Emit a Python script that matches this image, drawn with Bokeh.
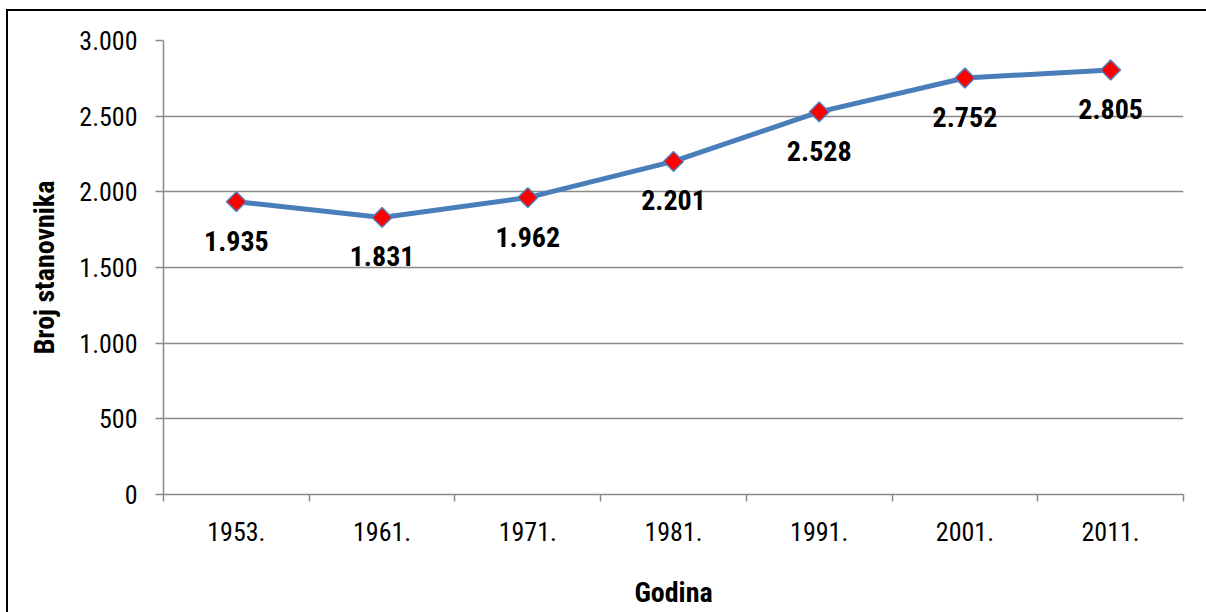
import math
from bokeh.plotting import figure
from bokeh.layouts import column
from bokeh.models import ColumnDataSource, FixedTicker, Range1d
from bokeh.core.properties import value
from bokeh.embed import file_html
from bokeh.resources import INLINE

years = ["1953.", "1961.", "1971.", "1981.", "1991.", "2001.", "2011."]
population = [1935, 1831, 1962, 2201, 2528, 2752, 2805]
y_ticks = [0, 500, 1000, 1500, 2000, 2500, 3000]


def fmt(v):
    return f"{v:,}".replace(",", ".")


FONT = "Liberation Sans Narrow, Noto Sans Condensed, Roboto Condensed, Liberation Sans"
GRAY = "#8a8a8a"
BLUE = "#4a7ebb"

xs = [i + 0.5 for i in range(len(years))]
src = ColumnDataSource(dict(x=xs, y=population, label=[fmt(v) for v in population]))

p = figure(width=1198, height=601, output_backend="svg", toolbar_location=None,
           x_range=Range1d(0, len(years)), y_range=Range1d(0, 3000),
           min_border_left=155, min_border_right=23, min_border_top=29,
           min_border_bottom=118)
p.outline_line_color = None
p.background_fill_color = "white"
p.border_fill_color = "white"

p.line("x", "y", source=src, line_color=BLUE, line_width=5)
p.scatter("x", "y", source=src, marker="square", size=14, angle=math.pi / 4,
          fill_color="#ff0000", line_color="#4f81bd", line_width=1.5)
p.text("x", "y", text="label", source=src, text_align="center",
       text_baseline="middle", y_offset=39, text_font=value(FONT),
       text_font_size="28px", text_font_style="bold", text_color="black")

# x axis
xa = p.xaxis[0]
xa.ticker = FixedTicker(ticks=xs, minor_ticks=list(range(len(years) + 1)))
xa.major_label_overrides = {x: y for x, y in zip(xs, years)}
xa.major_tick_out = 0
xa.major_tick_in = 0
xa.minor_tick_out = 7
xa.minor_tick_in = 0
xa.minor_tick_line_color = GRAY
xa.minor_tick_line_width = 1.5
xa.axis_line_color = GRAY
xa.axis_line_width = 1.5
xa.major_label_text_font = FONT
xa.major_label_text_font_size = "26px"
xa.major_label_text_color = "black"
xa.major_label_standoff = 20
xa.axis_label = "Godina"
xa.axis_label_text_font = FONT
xa.axis_label_text_font_size = "28px"
xa.axis_label_text_font_style = "bold"
xa.axis_label_text_color = "black"
xa.axis_label_standoff = 32

# y axis
ya = p.yaxis[0]
ya.ticker = FixedTicker(ticks=y_ticks)
ya.major_label_overrides = {v: fmt(v) for v in y_ticks}
ya.major_tick_out = 8
ya.major_tick_in = 0
ya.major_tick_line_color = GRAY
ya.major_tick_line_width = 1.5
ya.minor_tick_line_color = None
ya.axis_line_color = GRAY
ya.axis_line_width = 1.5
ya.major_label_text_font = FONT
ya.major_label_text_font_size = "26px"
ya.major_label_text_color = "black"
ya.major_label_standoff = 18
ya.axis_label = "Broj stanovnika"
ya.axis_label_text_font = FONT
ya.axis_label_text_font_size = "28px"
ya.axis_label_text_font_style = "bold"
ya.axis_label_text_color = "black"
ya.axis_label_standoff = 15

p.xgrid.visible = False
p.ygrid.ticker = FixedTicker(ticks=y_ticks)
p.ygrid.grid_line_color = GRAY
p.ygrid.grid_line_width = 1.5

# outer chart-area frame: only its top and left sides fall inside the picture
layout = column(p, styles={"border-top": "2px solid black",
                           "border-left": "2px solid black",
                           "margin-left": "6px", "margin-top": "9px"})

open("out.html", "w").write(file_html(layout, INLINE))
